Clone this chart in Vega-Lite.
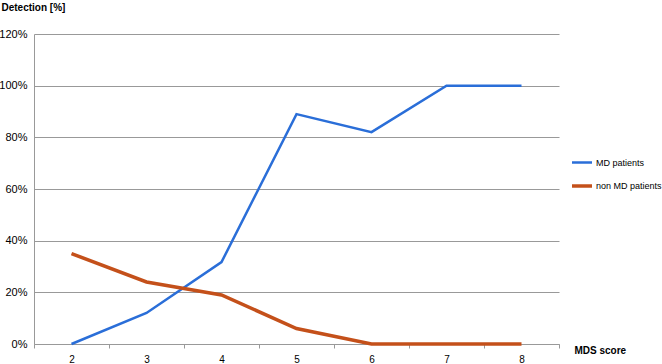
{
  "$schema": "https://vega.github.io/schema/vega-lite/v6.json",
  "width": 525,
  "height": 310,
  "autosize": {"type": "none"},
  "padding": {"left": 34, "top": 34, "right": 103, "bottom": 20},
  "background": "white",
  "config": {
    "view": {"stroke": null},
    "font": "Liberation Sans"
  },
  "data": {
    "values": [
      {"score": "2", "series": "MD patients", "value": 0},
      {"score": "3", "series": "MD patients", "value": 12},
      {"score": "4", "series": "MD patients", "value": 31.7},
      {"score": "5", "series": "MD patients", "value": 89},
      {"score": "6", "series": "MD patients", "value": 82},
      {"score": "7", "series": "MD patients", "value": 100},
      {"score": "8", "series": "MD patients", "value": 100},
      {"score": "2", "series": "non MD patients", "value": 35},
      {"score": "3", "series": "non MD patients", "value": 24},
      {"score": "4", "series": "non MD patients", "value": 19},
      {"score": "5", "series": "non MD patients", "value": 6},
      {"score": "6", "series": "non MD patients", "value": 0},
      {"score": "7", "series": "non MD patients", "value": 0},
      {"score": "8", "series": "non MD patients", "value": 0}
    ]
  },
  "mark": {"type": "line", "strokeJoin": "miter"},
  "encoding": {
    "x": {
      "field": "score",
      "type": "ordinal",
      "bandPosition": 0.5,
      "scale": {"type": "band", "paddingInner": 0, "paddingOuter": 0},
      "axis": {
        "title": "MDS score",
        "titleFontWeight": "bold",
        "titleFontSize": 10,
        "titleColor": "#000",
        "titleAlign": "left",
        "titleBaseline": "middle",
        "titleX": 540,
        "titleY": 6,
        "labelAngle": 0,
        "labelFontSize": 10,
        "labelColor": "#000",
        "labelPadding": 6,
        "domainColor": "#999",
        "tickColor": "#999",
        "tickSize": 4,
        "grid": false,
        "tickBand": "extent",
        "ticks": true
      }
    },
    "y": {
      "field": "value",
      "type": "quantitative",
      "scale": {"domain": [0, 120], "nice": false},
      "axis": {
        "values": [0, 20, 40, 60, 80, 100, 120],
        "labelExpr": "datum.value + '%'",
        "title": "Detection [%]",
        "titleFontWeight": "bold",
        "titleFontSize": 10,
        "titleColor": "#000",
        "titleAngle": 0,
        "titleAlign": "left",
        "titleBaseline": "middle",
        "titleX": -33,
        "titleY": -27,
        "labelFontSize": 11,
        "labelColor": "#000",
        "labelPadding": 7,
        "ticks": false,
        "domainColor": "#999",
        "gridColor": "#999",
        "gridOpacity": 1
      }
    },
    "color": {
      "field": "series",
      "type": "nominal",
      "scale": {"domain": ["MD patients", "non MD patients"], "range": ["#2a6ed8", "#c4501a"]},
      "legend": {
        "title": null,
        "orient": "none",
        "legendX": 536,
        "legendY": 117,
        "symbolType": "stroke",
        "symbolSize": 400,
        "symbolStrokeWidth": 3,
        "labelFontSize": 9,
        "labelColor": "#000",
        "labelOffset": 2,
        "labelLimit": 200,
        "rowPadding": 6
      }
    },
    "strokeWidth": {
      "field": "series",
      "type": "nominal",
      "scale": {"domain": ["MD patients", "non MD patients"], "range": [2.5, 3.5]},
      "legend": null
    }
  }
}
